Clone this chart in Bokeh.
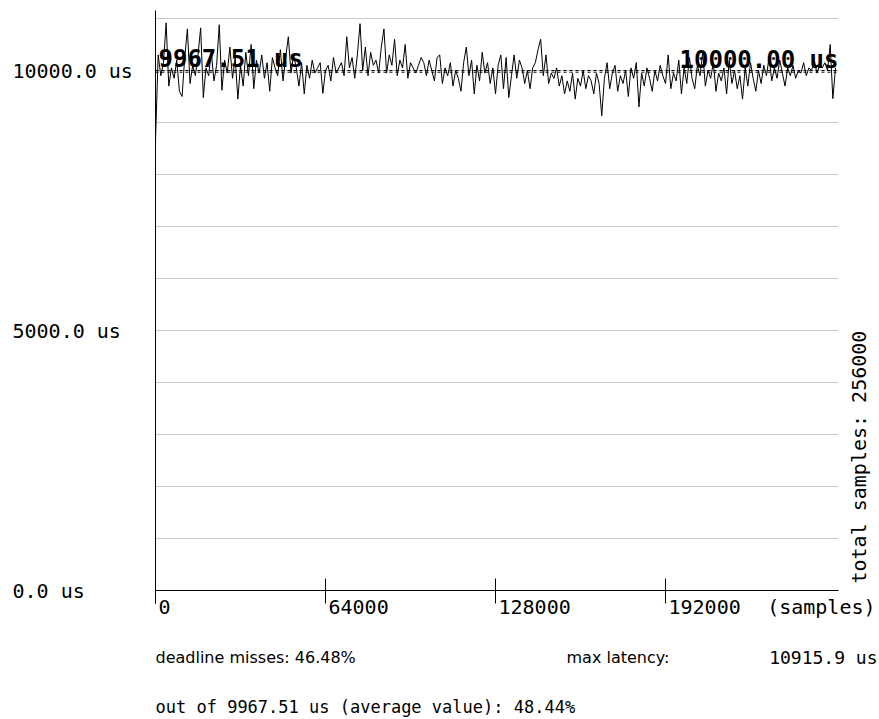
import math
from bokeh.plotting import figure
from bokeh.models import Range1d, Label, ColumnDataSource
from bokeh.core.properties import value
from bokeh.embed import file_html
from bokeh.resources import INLINE

# ---------------- data ----------------
latency_us = [
    8650, 10300, 9900, 10150, 10915.9, 9700, 10050, 9850, 10200, 9600,
    9500, 10250, 10800, 9750, 10100, 9900, 10300, 10820, 9480, 10050,
    9900, 10350, 9800, 10100, 10880, 9620, 10200, 9950, 10450, 9850,
    10250, 9450, 10100, 9700, 10350, 9900, 10500, 9650, 10200, 9950,
    10300, 9850, 10150, 9600, 10250, 10050, 9900, 10400, 9800, 10250,
    10650, 9950, 10300, 10050, 9700, 10150, 9550, 10100, 9850, 10200,
    9950, 10050, 10150, 9560, 10000, 10100, 9800, 10250, 9950, 10050,
    10150, 9900, 10650, 10050, 10250, 9850, 10300, 10900, 10000, 10450,
    9900, 10350, 10100, 10200, 9950, 10450, 10800, 9950, 10300, 10100,
    10600, 9900, 10200, 10050, 10500, 9850, 10150, 10050, 9950, 10100,
    10250, 10150, 9900, 10200, 10000, 9800, 10250, 10300, 9750, 10050,
    9900, 10150, 9700, 10000, 9850, 9600, 10150, 10450, 9900, 10200,
    9550, 10100, 9800, 10350, 9950, 10150, 9750, 10050, 9550, 10100,
    10300, 9650, 10250, 9480, 9900, 10300, 9850, 10200, 10050, 9750,
    10000, 9650, 10050, 10150, 10400, 10600, 9900, 10300, 9750, 9950,
    9850, 10050, 9700, 9900, 9550, 9800, 9600, 9950, 9450, 9850,
    9700, 10000, 9650, 9900, 9800, 9550, 9950, 9750, 9130, 9850,
    10150, 9650, 9950, 10100, 9600, 9900, 9750, 10000, 9500, 10050,
    9850, 10150, 9300, 9950, 9700, 10050, 9850, 9600, 10000, 9800,
    10100, 9900, 9750, 10300, 9650, 9950, 9800, 10200, 9550, 10050,
    9750, 10250, 9850, 9650, 10100, 9900, 10350, 9700, 10000, 9850,
    10150, 9600, 9950, 9800, 10050, 9550, 10200, 9750, 10000, 9650,
    9900, 9450, 10050, 9700, 10150, 9850, 9600, 10000, 9750, 10100,
    9900, 10250, 9800, 10050, 9850, 10200, 9950, 9700, 10050, 9900,
    10100, 9850, 10000, 9950, 10150, 9900, 10050, 10000, 10200, 9950,
    10100, 10050, 10150, 10000, 10500, 9460, 10050,
]
sample_step = 1000
samples = [i * sample_step for i in range(len(latency_us))]

y_ticks = [0, 5000, 10000]
y_tick_labels = ["0.0 us", "5000.0 us", "10000.0 us"]
x_ticks = [0, 64000, 128000, 192000]
x_tick_labels = ["0", "64000", "128000", "192000"]
x_unit_label = "(samples)"
grid_values = [1000, 2000, 3000, 4000, 5000, 6000, 7000, 8000, 9000, 10000, 11000]

deadline_us = 10000.00
average_us = 9967.51
max_latency_us = 10915.9
deadline_miss_pct = 46.48
above_avg_pct = 48.44
total_samples = 256000

# ---------------- scales (canvas is the frame) ----------------
W, H = 879, 719
origin_px = (155, 590)          # pixel position of (0 samples, 0 us)
x_per_px = 64000 / 170          # samples per pixel
y_per_px = 1000 / 52            # us per pixel
x_end = 683 * x_per_px          # right end of plot area
y_top = 580 * y_per_px          # top end of y axis

p = figure(width=W, height=H, output_backend="svg", toolbar_location=None,
           x_range=Range1d(-origin_px[0] * x_per_px, (W - origin_px[0]) * x_per_px),
           y_range=Range1d(-(H - origin_px[1]) * y_per_px, origin_px[1] * y_per_px),
           min_border=0, x_axis_location=None, y_axis_location=None)
p.outline_line_color = None
p.grid.visible = False
p.background_fill_color = "white"
p.border_fill_color = "white"

# horizontal grid
p.segment(x0=[0] * len(grid_values), y0=grid_values,
          x1=[x_end] * len(grid_values), y1=grid_values,
          line_color="#c8c8c8", line_width=1)

# axes lines and ticks
tick_in, tick_out = 12 * y_per_px, 13 * y_per_px
p.segment(x0=[0, 0], y0=[-tick_out, 0], x1=[0, x_end], y1=[y_top, 0],
          line_color="black", line_width=1)
p.segment(x0=x_ticks, y0=[-tick_out] * len(x_ticks), x1=x_ticks,
          y1=[tick_in] * len(x_ticks), line_color="black", line_width=1)

# reference lines (deadline and average)
p.segment(x0=[0, 0], y0=[deadline_us, average_us], x1=[x_end, x_end],
          y1=[deadline_us, average_us], line_color="black", line_width=1,
          line_dash="3 3")

# data line
p.line(samples, latency_us, line_color="black", line_width=1)

MONO = "DejaVu Sans Mono"
SANS = "DejaVu Sans"

# y tick labels, left aligned at the canvas edge
ysrc = ColumnDataSource(dict(x=[-143 * x_per_px] * len(y_ticks), y=y_ticks, t=y_tick_labels))
p.text(x="x", y="y", text="t", source=ysrc, text_font=value(MONO),
       text_font_size="20px", text_align="left", text_baseline="middle",
       text_color="black")

# x tick labels, left aligned at the tick
xsrc = ColumnDataSource(dict(x=[v + 3 * x_per_px for v in x_ticks],
                             y=[-16 * y_per_px] * len(x_ticks), t=x_tick_labels))
p.text(x="x", y="y", text="t", source=xsrc, text_font=value(MONO),
       text_font_size="20px", text_align="left", text_baseline="middle",
       text_color="black")
p.add_layout(Label(x=(W - 4 - origin_px[0]) * x_per_px, y=-16 * y_per_px,
                   text=x_unit_label, text_font=MONO, text_font_size="20px",
                   text_align="right", text_baseline="middle", text_color="black"))

# vertical total samples text
p.add_layout(Label(x=703 * x_per_px, y=7 * y_per_px,
                   text=f"total samples: {total_samples}",
                   text_font=MONO, text_font_size="20px", angle=math.pi / 2,
                   text_align="left", text_baseline="middle", text_color="black"))

# bold value labels on the reference lines
p.add_layout(Label(x=3 * x_per_px, y=average_us - 1 * y_per_px, text=f"{average_us:.2f} us",
                   text_font=MONO, text_font_size="24px", text_font_style="bold",
                   text_align="left", text_baseline="bottom", text_color="black"))
p.add_layout(Label(x=x_end, y=deadline_us - 3 * y_per_px, text=f"{deadline_us:.2f} us",
                   text_font=MONO, text_font_size="24px", text_font_style="bold",
                   text_align="right", text_baseline="bottom", text_color="black"))

# statistics text below the chart
p.add_layout(Label(x=0, y=-67 * y_per_px, text=f"deadline misses: {deadline_miss_pct:.2f}%",
                   text_font=SANS, text_font_size="16px", text_align="left",
                   text_baseline="middle", text_color="black"))
p.add_layout(Label(x=(566 - origin_px[0]) * x_per_px, y=-67 * y_per_px,
                   text="max latency:",
                   text_font=SANS, text_font_size="16px", text_align="left",
                   text_baseline="middle", text_color="black"))
p.add_layout(Label(x=(W - 2 - origin_px[0]) * x_per_px, y=-67 * y_per_px,
                   text=f"{max_latency_us:.1f} us",
                   text_font=MONO, text_font_size="18px", text_align="right",
                   text_baseline="middle", text_color="black"))
p.add_layout(Label(x=0, y=-116 * y_per_px,
                   text=f"out of {average_us:.2f} us (average value): {above_avg_pct:.2f}%",
                   text_font=MONO, text_font_size="17px", text_align="left",
                   text_baseline="middle", text_color="black"))

open("out.html", "w").write(file_html(p, INLINE))
